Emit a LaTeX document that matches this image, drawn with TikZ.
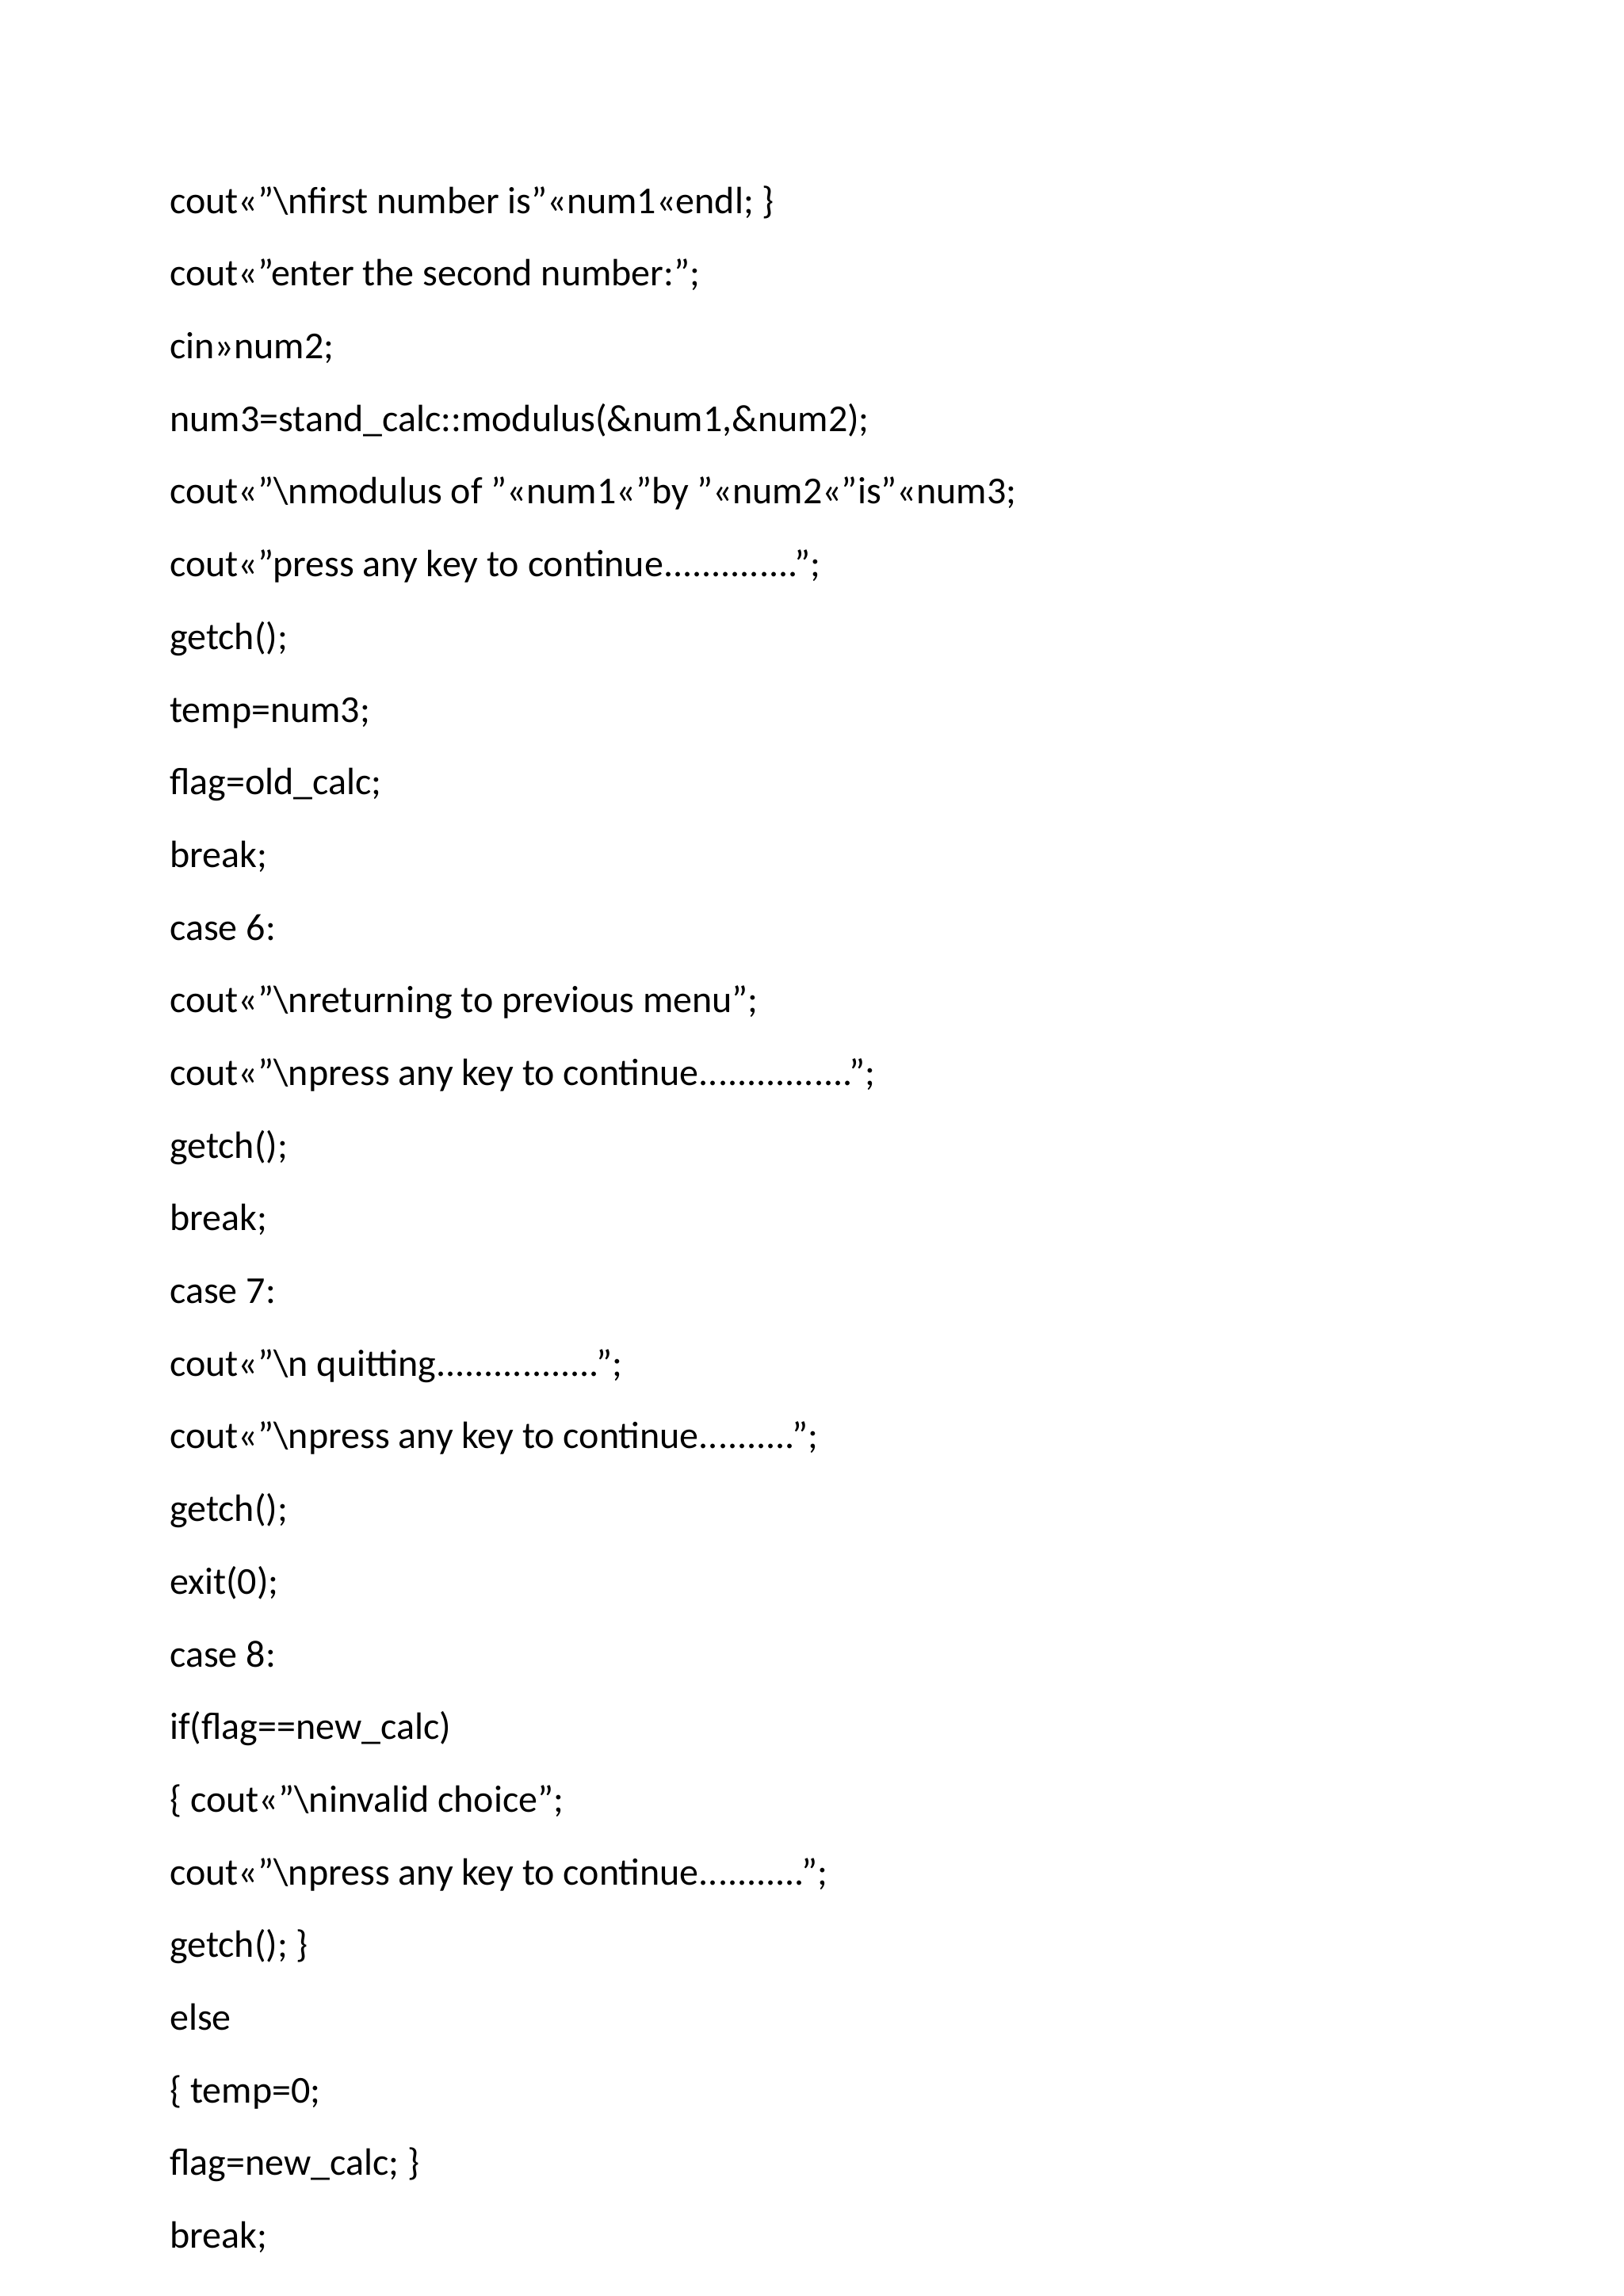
\documentclass[tikz,border=0pt]{standalone}
\usepackage{fontspec}
\setmainfont{Carlito}
\begin{document}
\begin{tikzpicture}[x=1mm,y=1mm,line/.style={anchor=base west,inner sep=0pt,font=\fontsize{14pt}{16pt}\selectfont}]
\useasboundingbox[fill=white] (0,0) rectangle (210,-297);
\def\sp{9.40}
\def\y{-27.6}
\node[line] (l1) at (21.9,\y) {cout<<"\textbackslash nfirst number is"<<num1<<endl; \}};
\node[line] (l2) at (21.9,\y-1*\sp) {cout<<"enter the second number:";};
\node[line] (l3) at (21.9,\y-2*\sp) {cin>>num2;};
\node[line] (l4) at (21.9,\y-3*\sp) {num3=stand\_calc::modulus(\&num1,\&num2);};
\node[line] (l5) at (21.9,\y-4*\sp) {cout<<"\textbackslash nmodulus of "<<num1<<"by "<<num2<<"is"<<num3;};
\node[line] (l6) at (21.9,\y-5*\sp) {cout<<"press any key to continue..............";};
\node[line] (l7) at (21.9,\y-6*\sp) {getch();};
\node[line] (l8) at (21.9,\y-7*\sp) {temp=num3;};
\node[line] (l9) at (21.9,\y-8*\sp) {flag=old\_calc;};
\node[line] (l10) at (21.9,\y-9*\sp) {break;};
\node[line] (l11) at (21.9,\y-10*\sp) {case 6:};
\node[line] (l12) at (21.9,\y-11*\sp) {cout<<"\textbackslash nreturning to previous menu";};
\node[line] (l13) at (21.9,\y-12*\sp) {cout<<"\textbackslash npress any key to continue................";};
\node[line] (l14) at (21.9,\y-13*\sp) {getch();};
\node[line] (l15) at (21.9,\y-14*\sp) {break;};
\node[line] (l16) at (21.9,\y-15*\sp) {case 7:};
\node[line] (l17) at (21.9,\y-16*\sp) {cout<<"\textbackslash n quitting.................";};
\node[line] (l18) at (21.9,\y-17*\sp) {cout<<"\textbackslash npress any key to continue..........";};
\node[line] (l19) at (21.9,\y-18*\sp) {getch();};
\node[line] (l20) at (21.9,\y-19*\sp) {exit(0);};
\node[line] (l21) at (21.9,\y-20*\sp) {case 8:};
\node[line] (l22) at (21.9,\y-21*\sp) {if(flag==new\_calc)};
\node[line] (l23) at (21.9,\y-22*\sp) {\{ cout<<"\textbackslash ninvalid choice";};
\node[line] (l24) at (21.9,\y-23*\sp) {cout<<"\textbackslash npress any key to continue...........";};
\node[line] (l25) at (21.9,\y-24*\sp) {getch(); \}};
\node[line] (l26) at (21.9,\y-25*\sp) {else};
\node[line] (l27) at (21.9,\y-26*\sp) {\{ temp=0;};
\node[line] (l28) at (21.9,\y-27*\sp) {flag=new\_calc; \}};
\node[line] (l29) at (21.9,\y-28*\sp) {break;};
\end{tikzpicture}
\end{document}
